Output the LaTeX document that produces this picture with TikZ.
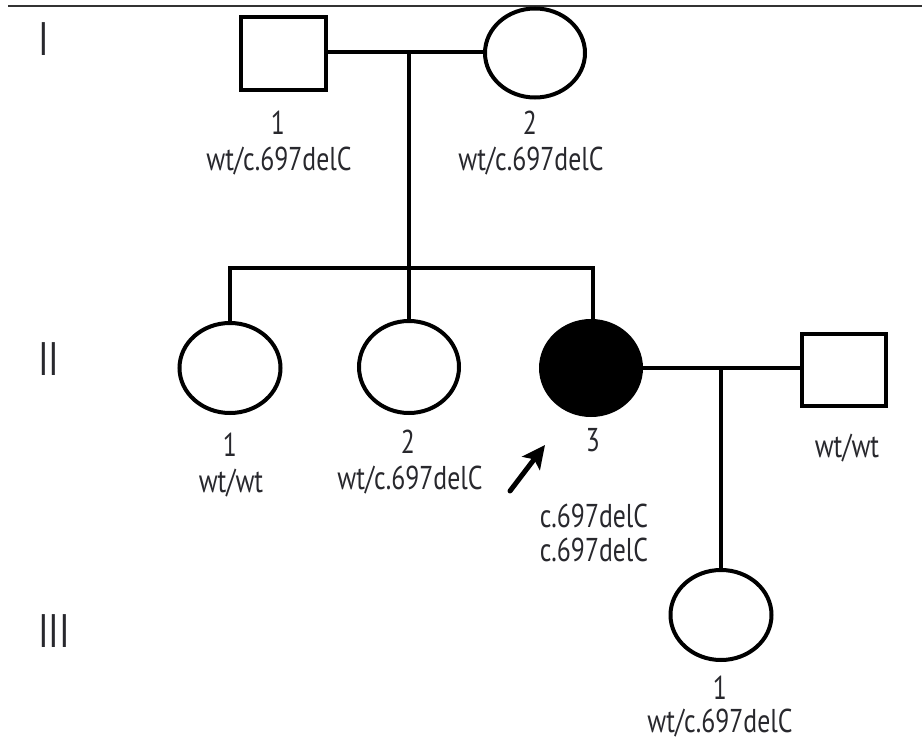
\documentclass[tikz,border=0pt]{standalone}
\usepackage{fontspec}
\setmainfont{PT Sans}[FakeStretch=0.78]
\usetikzlibrary{shapes.geometric,arrows.meta}
\definecolor{txt}{RGB}{40,40,45}
\begin{document}
\begin{tikzpicture}[x=1pt,y=-1pt,
  line width=4pt,
  male/.style={draw,rectangle,inner sep=0pt,minimum width=85pt,minimum height=73pt},
  female/.style={draw,ellipse,inner sep=0pt,minimum width=100pt,minimum height=90pt},
  affected/.style={female,fill=black},
  lbl/.style={font=\fontsize{33}{36}\selectfont,text=txt,inner sep=0pt,anchor=base},
  gen/.style={font=\fontsize{47}{50}\selectfont,text=txt,inner sep=0pt,anchor=base west}]
\useasboundingbox (0,0) rectangle (922,741);
\fill[white] (0,0) rectangle (922,741);
% top rule
\coordinate (r0) at (8,6);
\coordinate (r1) at (922,6);
\draw[line width=1.8pt,black!80] (r0) -- (r1);
% generation labels
\node[gen] (gI) at (36,56) {I};
\node[gen] (gII) at (36,375) {II};
\node[gen] (gIII) at (36,647) {III};
% generation I
\node[male] (i1) at (283,54) {};
\node[female,minimum height=89pt] (i2) at (535,53) {};
\coordinate (m1) at (409,52);
\draw (i1.east |- m1) -- (i2.west |- m1);
\coordinate (s1) at (409,268);
\draw (m1) -- (s1);
\coordinate (sl) at (230,268);
\coordinate (sr) at (593,268);
\draw ([xshift=-2pt]sl) -- ([xshift=2pt]sr);
% generation II
\node[female,minimum width=101pt] (ii1) at (230,368) {};
\node[female,minimum height=92pt] (ii2) at (409,367) {};
\node[affected,minimum height=94pt] (ii3) at (591,368) {};
\node[male,minimum width=84pt,minimum height=72pt] (ii4) at (844,370) {};
\draw (sl) -- (ii1.north);
\draw (s1) -- (ii2.north);
\draw (sr) -- (sr |- ii3.north);
\coordinate (m2) at (721,368);
\draw (ii3.east |- m2) -- (ii4.west |- m2);
% generation III
\node[female,minimum width=101pt] (iii1) at (721,615) {};
\draw (m2) -- (iii1.north);
% labels
\node[lbl] (t11) at (278,135) {1};
\node[lbl] (t12) at (279,171) {wt/c.697delC};
\node[lbl] (t21) at (530,135) {2};
\node[lbl] (t22) at (531,171) {wt/c.697delC};
\node[lbl] (u11) at (230,456) {1};
\node[lbl] (u12) at (231,492) {wt/wt};
\node[lbl] (u21) at (408,453) {2};
\node[lbl] (u22) at (410,489) {wt/c.697delC};
\node[lbl] (u31) at (593,451) {3};
\node[lbl] (u32) at (594,527) {c.697delC};
\node[lbl] (u33) at (594,561) {c.697delC};
\node[lbl] (u41) at (847,457) {wt/wt};
\node[lbl] (v11) at (720,699) {1};
\node[lbl] (v12) at (720,732) {wt/c.697delC};
% proband arrow
\coordinate (a0) at (510,491);
\coordinate (a1) at (545,445);
\draw[line width=5pt,line cap=round,-{Stealth[length=23pt,width=22pt,inset=5pt]}] (a0) -- (a1);
\end{tikzpicture}
\end{document}
